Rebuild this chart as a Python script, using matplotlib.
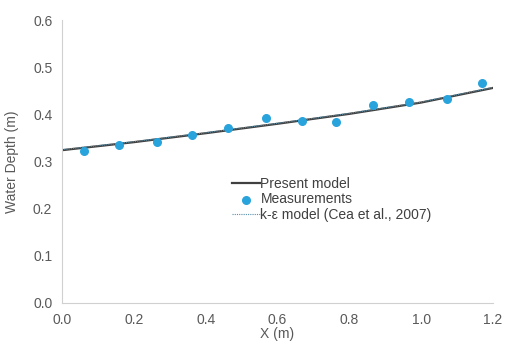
import numpy as np
import matplotlib.pyplot as plt

plt.rcParams['font.family'] = ['Liberation Sans', 'DejaVu Sans']

# measurements
x_meas = [0.061, 0.160, 0.264, 0.363, 0.463, 0.568, 0.669, 0.763, 0.865, 0.967, 1.073, 1.170]
h_meas = [0.323, 0.335, 0.342, 0.357, 0.370, 0.392, 0.386, 0.383, 0.419, 0.426, 0.433, 0.466]

# present model
x_model = [0.0, 0.2, 0.4, 0.6, 0.8, 1.0, 1.2]
h_model = [0.324, 0.341, 0.360, 0.380, 0.401, 0.425, 0.456]

# k-eps model (Cea et al., 2007)
x_ke = [0.0, 0.2, 0.4, 0.6, 0.8, 1.0, 1.2]
h_ke = [0.325, 0.342, 0.361, 0.381, 0.402, 0.426, 0.457]

fig = plt.figure(figsize=(5.07, 3.44), dpi=100)
ax = fig.add_axes([62/507, 41/344, 431/507, 283/344])

ax.plot(x_model, h_model, color='#404040', lw=1.6, label='Present model')
ax.scatter(x_meas, h_meas, color='#29a3dc', s=30, zorder=5, label='Measurements')
ax.plot(x_ke, h_ke, color='#5b8fa8', lw=0.8, ls=(0, (1, 1)), label='k-ε model (Cea et al., 2007)')

ax.set_xlim(0, 1.2)
ax.set_ylim(0, 0.6)
ax.set_xticks(np.arange(0, 1.21, 0.2))
ax.set_yticks(np.arange(0, 0.61, 0.1))
ax.xaxis.set_major_formatter(plt.FormatStrFormatter('%.1f'))
ax.yaxis.set_major_formatter(plt.FormatStrFormatter('%.1f'))
ax.tick_params(length=0, labelsize=10, colors='#595959', pad=7)

for s in ['top', 'right']:
    ax.spines[s].set_visible(False)
for s in ['left', 'bottom']:
    ax.spines[s].set_color('#d0d0d0')

ax.set_xlabel('X (m)', fontsize=10, color='#595959', labelpad=0)
ax.set_ylabel('Water Depth (m)', fontsize=10, color='#595959', labelpad=10)

leg = ax.legend(loc='upper left', bbox_to_anchor=(170/431, 1 - 157/283), frameon=False, fontsize=10,
                handlelength=2.0, handletextpad=0.05, labelspacing=0.1, labelcolor='#404040',
                borderpad=0, borderaxespad=0)

plt.savefig('out.png')
